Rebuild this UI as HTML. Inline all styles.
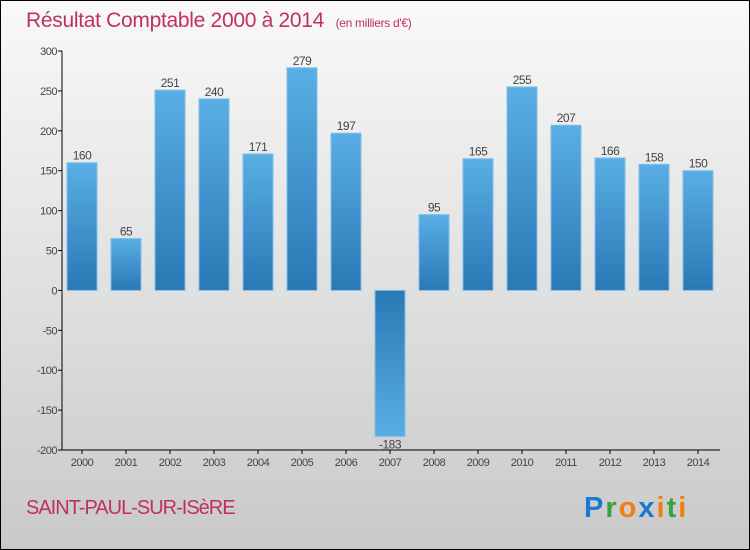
<!DOCTYPE html>
<html><head><meta charset="utf-8"><style>
html,body{margin:0;padding:0}
body{width:750px;height:550px;overflow:hidden}
svg{display:block;font-family:"Liberation Sans",sans-serif}
</style></head><body>
<svg id="chart" width="750" height="550" viewBox="0 0 750 550" xmlns="http://www.w3.org/2000/svg">
<defs>
<linearGradient id="bg" x1="0" y1="0" x2="0" y2="1"><stop offset="0" stop-color="#f9f9f9"/><stop offset="1" stop-color="#c9c9c9"/></linearGradient>
<linearGradient id="barPos" x1="0" y1="0" x2="0" y2="1"><stop offset="0" stop-color="#5aaee6"/><stop offset="1" stop-color="#2a78b4"/></linearGradient>
<linearGradient id="barNeg" x1="0" y1="0" x2="0" y2="1"><stop offset="0" stop-color="#2a78b4"/><stop offset="1" stop-color="#5aaee6"/></linearGradient>
</defs>
<rect x="0.5" y="0.5" width="749" height="549" fill="url(#bg)" stroke="#000"/>
<text x="26" y="27" font-size="21" fill="#c0305e" letter-spacing="-0.3">Résultat Comptable 2000 à 2014 <tspan font-size="12" dx="6">(en milliers d'€)</tspan></text>
<g id="axes"></g>
<g id="bars"></g>
<text x="26" y="514" font-size="20" fill="#c0305e" letter-spacing="-1">SAINT-PAUL-SUR-ISèRE</text>
<g font-size="29" font-weight="bold">
<text x="584" y="517" letter-spacing="2"><tspan fill="#1a7ad0">P</tspan><tspan fill="#3aa043">r</tspan><tspan fill="#f07f10">o</tspan><tspan fill="#1a7ad0">x</tspan><tspan fill="#f07f10">i</tspan><tspan fill="#3aa043">t</tspan><tspan fill="#f07f10">i</tspan></text>
</g>
</svg>
<script>
const categories=["2000","2001","2002","2003","2004","2005","2006","2007","2008","2009","2010","2011","2012","2013","2014"];
const values=[160,65,251,240,171,279,197,-183,95,165,255,207,166,158,150];
const yTicks=[300,250,200,150,100,50,0,-50,-100,-150,-200];
const NS="http://www.w3.org/2000/svg";
const yMin=-200,yMax=300,yTop=51,yBot=450,x0=62,x1=720,step=44,firstX=82,bw=30;
const y=v=>yBot-(v-yMin)*(yBot-yTop)/(yMax-yMin);
const x=i=>firstX+i*step;
function mk(tag,attrs,parent,txt){const e=document.createElementNS(NS,tag);for(const k in attrs)e.setAttribute(k,attrs[k]);if(txt!==undefined)e.textContent=txt;parent.appendChild(e);return e;}
const ax=document.getElementById('axes'),bars=document.getElementById('bars');
let l=mk('line',{x1:x0,y1:yTop,x2:x0,y2:yBot,stroke:'#000'},ax);


l=mk('line',{x1:x0,y1:yBot,x2:x1,y2:yBot,stroke:'#000'},ax);


yTicks.forEach(t=>{
 mk('line',{x1:x0-4,y1:y(t),x2:x0,y2:y(t),stroke:'#000'},ax);
 const tx=mk('text',{x:x0-5,y:y(t)+4,'text-anchor':'end','font-size':11,fill:'#444','letter-spacing':'-0.5'},ax,String(t));
 
 
});
categories.forEach((c,i)=>{
 mk('line',{x1:x(i),y1:yBot,x2:x(i),y2:yBot+4,stroke:'#000'},ax);
 const tx=mk('text',{x:x(i),y:yBot+16,'text-anchor':'middle','font-size':11,fill:'#444','letter-spacing':'-0.5'},ax,c);
 
 
 const v=values[i],top=Math.min(y(v),y(0)),h=Math.abs(y(v)-y(0));
 const r=mk('rect',{x:x(i)-bw/2,y:top,width:bw,height:h,fill:v>=0?'url(#barPos)':'url(#barNeg)',stroke:'#7cc0ee','stroke-width':1},bars);
 
 
 const ly=v>=0?y(v)-3:y(v)+12;
 const lb=mk('text',{x:x(i),y:ly,'text-anchor':'middle','font-size':12,fill:'#444','letter-spacing':'-0.5'},bars,v<0?'-'+Math.abs(v):String(v));
 
 
});
</script>
</body></html>
